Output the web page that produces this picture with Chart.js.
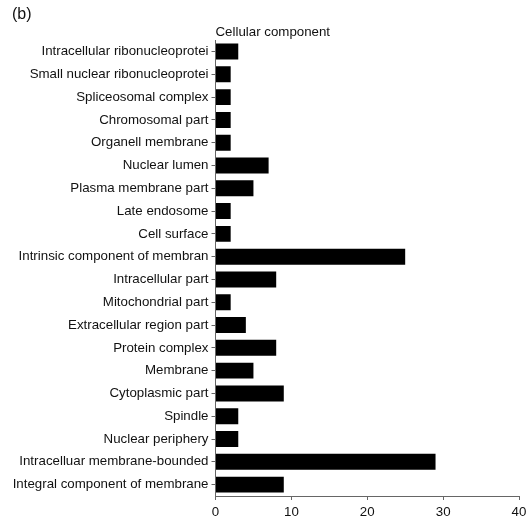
<!DOCTYPE html>
<html>
<head>
    <title>Cellular component</title>
    <script src="https://cdn.jsdelivr.net/npm/chart.js"></script>
    <style>
        body {
            margin: 0;
            background: #fff;
        }
        canvas {
            display: block;
        }
    </style>
</head>
<body>
    <canvas id="ccChart" width="532" height="524"></canvas>

<script>
    // GO terms, top to bottom as shown
    const terms = [
        'Intracellular ribonucleoprotei',
        'Small nuclear ribonucleoprotei',
        'Spliceosomal complex',
        'Chromosomal part',
        'Organell membrane',
        'Nuclear lumen',
        'Plasma membrane part',
        'Late endosome',
        'Cell surface',
        'Intrinsic component of membran',
        'Intracellular part',
        'Mitochondrial part',
        'Extracellular region part',
        'Protein complex',
        'Membrane',
        'Cytoplasmic part',
        'Spindle',
        'Nuclear periphery',
        'Intracelluar membrane-bounded',
        'Integral component of membrane'
    ];
    const counts = [3, 2, 2, 2, 2, 7, 5, 2, 2, 25, 8, 2, 4, 8, 5, 9, 3, 3, 29, 9];
    const xTicks = [0, 10, 20, 30, 40];

    const font = "'Liberation Sans', Arial, sans-serif";
    const axisGrey = '#666';

    new Chart(document.getElementById('ccChart'), {
        type: 'bar',
        data: {
            labels: terms,
            datasets: [{
                data: counts,
                backgroundColor: '#000',
                borderWidth: 0,
                barPercentage: 1,
                categoryPercentage: 0.7
            }]
        },
        options: {
            indexAxis: 'y',
            responsive: false,
            animation: false,
            layout: {
                padding: {left: 12, right: 13, top: 0, bottom: 0}
            },
            scales: {
                x: {
                    min: xTicks[0],
                    max: xTicks[xTicks.length - 1],
                    afterFit: s => { s.height = 28; },
                    afterBuildTicks: s => { s.ticks = xTicks.map(v => ({value: v})); },
                    border: {color: axisGrey, width: 1},
                    grid: {drawOnChartArea: false, tickLength: 4, color: axisGrey},
                    ticks: {
                        padding: 4,
                        color: '#111',
                        font: {family: font, size: 13.3}
                    }
                },
                y: {
                    afterFit: s => { s.width = 203.5; },
                    border: {color: axisGrey, width: 1},
                    // tick marks sit next to each label, not between bars
                    grid: {drawOnChartArea: false, offset: false, tickLength: 4, color: axisGrey},
                    ticks: {
                        padding: 3,
                        autoSkip: false,
                        color: '#111',
                        font: {family: font, size: 13.3}
                    }
                }
            },
            plugins: {
                legend: {display: false},
                tooltip: {enabled: false},
                title: {
                    display: true,
                    text: '(b)',
                    align: 'start',
                    color: '#111',
                    font: {family: font, size: 16, weight: 'normal'},
                    padding: {top: 5, bottom: 0}
                },
                subtitle: {
                    display: true,
                    text: 'Cellular component',
                    align: 'start',
                    fullSize: false,
                    color: '#111',
                    font: {family: font, size: 13.3},
                    padding: {top: 0, bottom: 0}
                }
            }
        }
    });
</script>
</body>
</html>
